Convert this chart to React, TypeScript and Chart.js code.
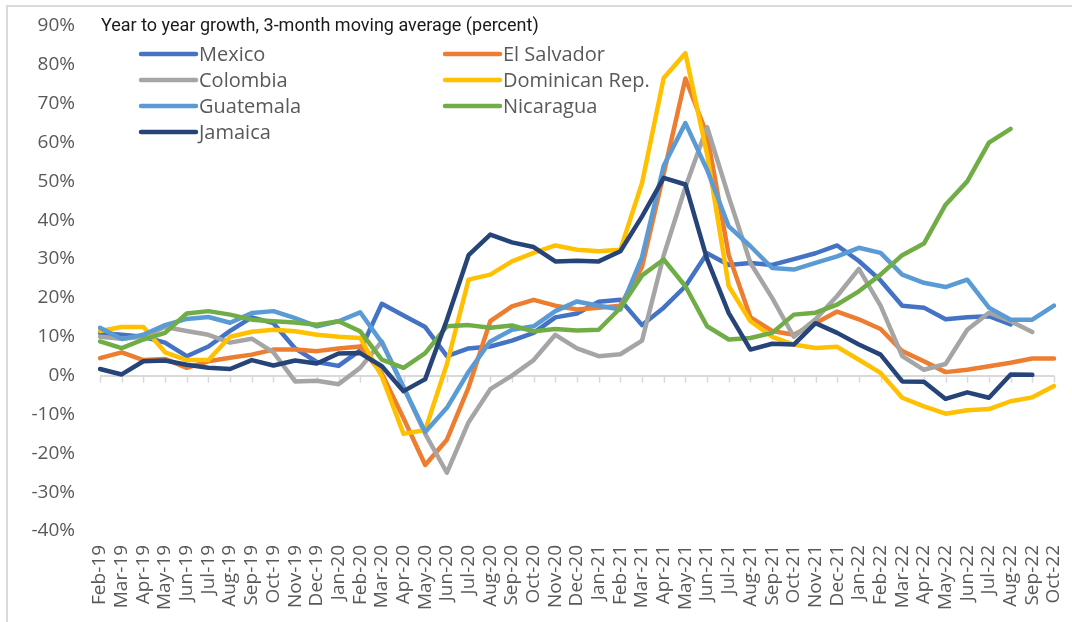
import React, { useEffect, useRef } from "react";
import { Chart, registerables } from "chart.js";

Chart.register(...registerables);

const months = [
  "Feb-19", "Mar-19", "Apr-19", "May-19", "Jun-19", "Jul-19", "Aug-19", "Sep-19", "Oct-19", "Nov-19", "Dec-19",
  "Jan-20", "Feb-20", "Mar-20", "Apr-20", "May-20", "Jun-20", "Jul-20", "Aug-20", "Sep-20", "Oct-20", "Nov-20", "Dec-20",
  "Jan-21", "Feb-21", "Mar-21", "Apr-21", "May-21", "Jun-21", "Jul-21", "Aug-21", "Sep-21", "Oct-21", "Nov-21", "Dec-21",
  "Jan-22", "Feb-22", "Mar-22", "Apr-22", "May-22", "Jun-22", "Jul-22", "Aug-22", "Sep-22", "Oct-22",
];

const mexico = [11, 10.5, 10, 8.5, 5, 7.5, 11.5, 15, 13.5, 7, 3.5, 2.5, 6.5, 18.5, 15.5, 12.5, 5, 7, 7.5, 9, 11, 15, 16, 19, 19.5, 13, 17.5, 23, 31.5, 28.5, 29, 28.5, 30, 31.5, 33.5, 29.5, 24.5, 18, 17.5, 14.5, 15, 15.3, 13.2, null, null];
const elSalvador = [4.5, 6, 4, 4.3, 2, 3.7, 4.6, 5.4, 6.7, 6.7, 6.3, 7, 7.5, 0.5, -11, -23, -16.5, -3, 14, 17.8, 19.5, 18, 17, 17.5, 18, 28, 52, 76.5, 62, 31, 15, 11.5, 10.5, 13.5, 16.5, 14.5, 12, 6.3, 3.7, 0.9, 1.5, 2.4, 3.3, 4.4, 4.4];
const colombia = [10, 9.5, 10, 12.5, 11.5, 10.5, 8.5, 9.5, 6, -1.5, -1.3, -2.2, 2, 8.8, -3, -15, -25, -12, -3.5, 0, 4, 10.5, 7, 5, 5.5, 9, 31, 48.5, 64, 46, 29, 20, 10, 14.5, 20.5, 27.5, 18, 5, 1.5, 3, 11.8, 16.2, 14, 11.2, null];
const dominicanRep = [11.5, 12.5, 12.5, 6, 4, 4, 10, 11.3, 11.8, 11.4, 10.5, 10, 9.7, -0.2, -15, -14, 3, 24.7, 26, 29.4, 31.6, 33.5, 32.4, 32, 32.4, 49.6, 76.6, 83, 57, 23, 14, 10, 8, 7.1, 7.4, 4.1, 0.7, -5.7, -7.9, -9.8, -8.9, -8.6, -6.6, -5.6, -2.7];
const guatemala = [12.3, 9.4, 10.5, 13, 14.6, 15.1, 13.6, 16.1, 16.6, 14.8, 12.7, 14, 16.3, 8.5, -3, -14.5, -8.3, 1, 8.8, 11.8, 12.7, 16.6, 19.1, 18, 17, 30.5, 54, 65, 53, 38.4, 33.3, 27.7, 27.3, 29, 30.7, 32.9, 31.6, 26, 23.9, 22.8, 24.7, 17.5, 14.4, 14.4, 18];
const nicaragua = [8.8, 7.1, 9.3, 11, 16, 16.6, 15.7, 14.4, 14, 13.7, 13.1, 14, 11.4, 4.1, 2, 5.8, 12.7, 13, 12.3, 12.9, 11.4, 12, 11.6, 11.8, 17.4, 25.8, 29.9, 23, 12.7, 9.3, 9.7, 11, 15.7, 16.2, 18.3, 21.7, 26, 31, 34, 44, 50, 60, 63.5, null, null];
const jamaica = [1.7, 0.3, 3.7, 3.9, 2.8, 2, 1.7, 4, 2.6, 3.9, 3.1, 5.7, 5.8, 2.4, -4, -0.9, 14.4, 31, 36.3, 34.3, 33.1, 29.4, 29.6, 29.4, 32, 41, 50.9, 49.2, 30, 16.1, 6.7, 8.2, 8, 13.5, 11, 8, 5.4, -1.5, -1.6, -6, -4.3, -5.7, 0.3, 0.2, null];

const seriesNames = ["Mexico", "El Salvador", "Colombia", "Dominican Rep.", "Guatemala", "Nicaragua", "Jamaica"];
const seriesValues = [mexico, elSalvador, colombia, dominicanRep, guatemala, nicaragua, jamaica];
const seriesColors = ["#4472C4", "#ED7D31", "#A5A5A5", "#FFC000", "#5B9BD5", "#70AD47", "#264478"];

const yMin = -40;
const yMax = 90;
const yStep = 10;
const chartTitle = "Year to year growth, 3-month moving average (percent)";

const TEXT_GREY = "#595959";
const AXIS_GREY = "#D9D9D9";

export default function App() {
  const ref = useRef<HTMLCanvasElement>(null);

  useEffect(() => {
    const canvas = ref.current;
    if (!canvas) return;

    const zeroAxisTicks = {
      id: "zeroAxisTicks",
      beforeDatasetsDraw(chart: any) {
        const { ctx, scales } = chart;
        const xs = scales.x;
        const y0 = scales.y.getPixelForValue(0);
        ctx.save();
        ctx.strokeStyle = AXIS_GREY;
        ctx.lineWidth = 1.5;
        for (let i = 0; i < xs.ticks.length; i++) {
          const x = Math.round(xs.getPixelForTick(i)) + 0.5;
          ctx.beginPath();
          ctx.moveTo(x, y0);
          ctx.lineTo(x, y0 + 7);
          ctx.stroke();
        }
        ctx.restore();
      },
    };

    const overlay = {
      id: "overlay",
      afterDatasetsDraw(chart: any) {
        const { ctx } = chart;
        ctx.save();
        ctx.fillStyle = "#1a1a1a";
        ctx.font = '18px "Roboto", sans-serif';
        ctx.textBaseline = "middle";
        ctx.textAlign = "left";
        ctx.fillText(chartTitle, 101, 26);
        const colX = [141, 445];
        const rowY = [54, 80, 106, 132];
        const lineLen = 55;
        ctx.font = '20px "Open Sans", sans-serif';
        chart.data.datasets.forEach((ds: any, i: number) => {
          const cx = colX[i % 2];
          const cy = rowY[Math.floor(i / 2)];
          ctx.strokeStyle = ds.borderColor;
          ctx.lineWidth = 4.5;
          ctx.lineCap = "round";
          ctx.beginPath();
          ctx.moveTo(cx, cy);
          ctx.lineTo(cx + lineLen, cy);
          ctx.stroke();
          ctx.fillStyle = TEXT_GREY;
          ctx.fillText(ds.label, cx + lineLen + 3, cy + 1);
        });
        ctx.restore();
      },
    };

    const chart = new Chart(canvas, {
      type: "line",
      data: {
        labels: months,
        datasets: seriesNames.map((name, i) => ({
          label: name,
          data: seriesValues[i],
          borderColor: seriesColors[i],
          backgroundColor: seriesColors[i],
          borderWidth: 4.5,
          pointRadius: 0,
          pointHoverRadius: 0,
          tension: 0,
          fill: false,
          spanGaps: false,
          borderJoinStyle: "round" as const,
          borderCapStyle: "round" as const,
          order: seriesNames.length - i,
        })),
      },
      options: {
        responsive: false,
        animation: false,
        events: [],
        layout: { padding: { top: 26, right: 18, left: 0, bottom: 0 } },
        plugins: {
          legend: { display: false },
          title: { display: false },
          tooltip: { enabled: false },
        },
        scales: {
          x: {
            type: "category",
            offset: false,
            grid: { display: false, drawTicks: false },
            border: { display: false },
            ticks: {
              autoSkip: false,
              minRotation: 90,
              maxRotation: 90,
              padding: 14,
              color: TEXT_GREY,
              font: { family: '"Open Sans", sans-serif', size: 19 },
            },
            afterFit(scale: any) {
              scale.height = 91;
              scale.paddingLeft = 0;
              scale.paddingRight = 0;
            },
          },
          y: {
            min: yMin,
            max: yMax,
            grid: {
              drawTicks: false,
              lineWidth: 2,
              color: (c: any) => (c.tick && c.tick.value === 0 ? AXIS_GREY : "rgba(0,0,0,0)"),
            },
            border: { display: false },
            ticks: {
              stepSize: yStep,
              padding: 25,
              color: TEXT_GREY,
              font: { family: '"Open Sans", sans-serif', size: 19 },
              callback: (v: any) => `${v}%`,
            },
            afterFit(scale: any) {
              scale.width = 100;
              scale.paddingTop = 0;
              scale.paddingBottom = 0;
            },
          },
        },
      },
      plugins: [zeroAxisTicks, overlay],
    });

    return () => chart.destroy();
  }, []);

  return (
    <div style={{ position: "fixed", left: 0, top: 0, width: 1072, height: 622, background: "#fff", overflow: "hidden" }}>
      <div
        style={{
          position: "absolute",
          left: 6,
          top: 5,
          right: 0,
          bottom: 0,
          borderLeft: `2px solid ${AXIS_GREY}`,
          borderTop: `2px solid ${AXIS_GREY}`,
        }}
      />
      <canvas ref={ref} width={1072} height={622} style={{ position: "absolute", left: 0, top: 0 }} />
    </div>
  );
}
